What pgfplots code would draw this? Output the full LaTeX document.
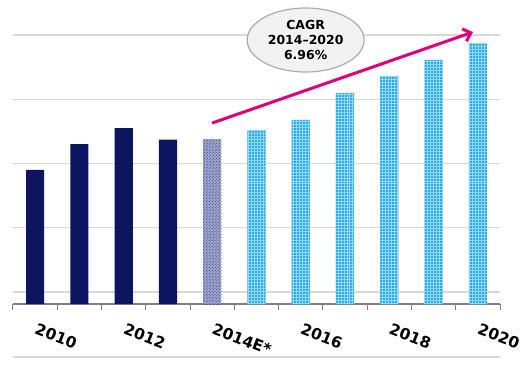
\documentclass[border=0pt]{standalone}
\usepackage{pgfplots}
\pgfplotsset{compat=1.18}
\usepackage{fontspec}
\setmainfont{DejaVu Sans}
\usetikzlibrary{patterns,arrows.meta,shapes.geometric}
\definecolor{navy}{RGB}{12,22,96}
\definecolor{lav}{RGB}{160,166,208}
\definecolor{lblue}{RGB}{40,172,232}
\definecolor{lbluep}{RGB}{150,214,245}
\definecolor{navyp}{RGB}{40,50,120}
\definecolor{mag}{RGB}{222,0,122}
\definecolor{gridc}{RGB}{217,217,217}
\definecolor{axc}{RGB}{128,128,128}
\begin{document}
\begin{tikzpicture}
\useasboundingbox (-13bp,-65bp) rectangle (517bp,304bp);
\begin{axis}[
  at={(0,0)}, anchor=south west,
  scale only axis, width=487bp, height=269bp,
  xmin=-0.5, xmax=10.5, ymin=0, ymax=4.187,
  ybar, bar width=0.41,
  axis x line*=bottom, axis y line*=left,
  y axis line style={draw=none},
  x axis line style={draw=axc, line width=2.5bp},
  ytick={0.187,1.187,2.187,3.187,4.187}, yticklabels={},
  ytick style={draw=none},
  ymajorgrids, grid style={draw=gridc, line width=1.2bp},
  xtick={0,2,4,6,8,10},
  xticklabels={2010,2012,2014E*,2016,2018,2020},
  minor xtick={-0.5,0.5,...,10.5},
  major tick length=0pt, minor tick length=6bp,
  tick align=outside,
  minor x tick style={draw=axc, line width=1bp},
  xticklabel style={font=\fontsize{15.5}{15.5}\selectfont\bfseries, rotate=-21, anchor=north west, yshift=-13bp, xshift=6bp},
  clip=false,
]
\addplot[fill=navy, draw=none, bar shift=0pt] coordinates {(0,2.086) (1,2.490) (2,2.739) (3,2.560)};
\addplot[fill=lav, draw=none, bar shift=0pt, postaction={pattern=crosshatch dots, pattern color=navyp}] coordinates {(4,2.568)};
\addplot[fill=lblue, draw=none, bar shift=0pt, postaction={pattern=grid, pattern color=lbluep}] coordinates {(5,2.708) (6,2.864) (7,3.284) (8,3.549) (9,3.798) (10,4.062)};
\draw[mag, line width=3bp, -{Straight Barb[length=7bp,width=13bp,line width=3bp]}] (axis cs:4,2.817) -- (axis cs:9.89,4.233);
\node[ellipse, draw=gray!65, fill=gray!10, line width=1.2bp, minimum width=117bp, minimum height=64bp, align=center, font=\fontsize{12.5}{15}\selectfont\bfseries, inner sep=0pt] at (axis cs:6.11,4.109) {CAGR\\2014--2020\\6.96\%};
\draw[gridc, line width=1.5bp] (axis cs:-0.5,-0.825) -- (axis cs:10.5,-0.825);
\end{axis}
\end{tikzpicture}
\end{document}
